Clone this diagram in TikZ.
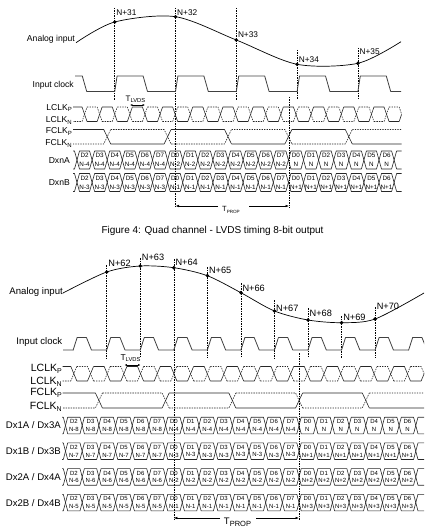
\documentclass[tikz,border=0pt]{standalone}
\usepackage{fontspec}
\setmainfont{Liberation Sans}
\usetikzlibrary{arrows.meta}

\newcommand{\lowtxt}[2]{\raisebox{-0.35ex}{\fontsize{#1}{#1}\selectfont #2}}

% P/N pair: xstart, xend, ytop, ybot, start of first P-high eye, eye width, edge half width, last eye
\newcommand{\diffclk}[8]{%
  \begin{scope}
    \clip (#1,#3-2) rectangle (#2,#4+2);
    \foreach \k in {0,...,#8}{%
      \pgfmathsetmacro\ea{#5+\k*#6}%
      \pgfmathsetmacro\eb{\ea+#6}%
      \ifodd\k
        \draw[wave] (\ea+#7,#4) -- (\eb-#7,#4) -- (\eb+#7,#3);
        \draw[waveN] (\ea+#7,#3) -- (\eb-#7,#3) -- (\eb+#7,#4);
      \else
        \draw[wave] (\ea+#7,#3) -- (\eb-#7,#3) -- (\eb+#7,#4);
        \draw[waveN] (\ea+#7,#4) -- (\eb-#7,#4) -- (\eb+#7,#3);
      \fi
    }
  \end{scope}}

% data row: ycentre, half height, xstart, xend, first edge, bit width, edge half width, first sample, sample step
\newcommand{\datarow}[9]{%
  \begin{scope}
    \clip (#3,#1-#2-2) rectangle (#4,#1+#2+2);
    \foreach \cell in {-1,...,21}{%
      \pgfmathsetmacro\cx{#5+\cell*#6}%
      \draw[wave] (\cx,#1) -- (\cx+#7,#1-#2) -- (\cx+#6-#7,#1-#2) -- (\cx+#6,#1)
        -- (\cx+#6-#7,#1+#2) -- (\cx+#7,#1+#2) -- cycle;
    }
  \end{scope}
  \foreach \cell in {0,...,20}{%
    \pgfmathtruncatemacro\bitno{mod(\cell+2,8)}%
    \pgfmathtruncatemacro\smp{#8+#9*int((\cell+2)/8)}%
    \node[celltext] (d#8-\cell) at (#5+\cell*#6+#6/2,#1)
      {D\bitno\\N\ifnum\smp>0 +\fi\ifnum\smp=0 \else\smp\fi};
  }}

% input clock: xstart, xend, ylow, yhigh, first rising edge, period, rise, high, fall
\newcommand{\inclk}[9]{%
  \begin{scope}
    \clip (#1,#4-2) rectangle (#2,#3+2);
    \foreach \k in {-2,...,12}{%
      \pgfmathsetmacro\rx{#5+\k*#6}%
      \draw[clk] (\rx,#3) -- (\rx+#7,#4) -- (\rx+#7+#8,#4) -- (\rx+#7+#8+#9,#3) -- (\rx+#6,#3);
    }
  \end{scope}}

\begin{document}
\begin{tikzpicture}[x=1pt,y=-1pt,line join=round]
  \tikzstyle{wave}=[line width=0.6pt,draw=black!85]
  \tikzstyle{waveN}=[wave,dash pattern=on 1.4pt off 1.1pt]
  \tikzstyle{clk}=[line width=0.8pt,draw=black!75,line cap=round]
  \tikzstyle{curve}=[line width=0.7pt]
  \tikzstyle{sampleline}=[line width=0.5pt,dash pattern=on 1.5pt off 1pt]
  \tikzstyle{sampdot}=[circle,fill=black,inner sep=0pt,minimum size=3.8pt]
  \tikzstyle{siglabel}=[anchor=east,inner sep=0pt,font=\fontsize{8.6}{10}\selectfont]
  \tikzstyle{smplabel}=[anchor=west,inner sep=0pt,font=\fontsize{8.3}{10}\selectfont]
  \tikzstyle{celltext}=[align=center,inner sep=0pt,font=\fontsize{6.3}{9}\selectfont]
  \tikzstyle{tarrow}=[line width=0.6pt,-{Latex[length=3.5pt,width=2.6pt]}]
  \tikzstyle{tlvds}=[line width=0.5pt,{Latex[length=2.4pt,width=2pt]}-{Latex[length=2.4pt,width=2pt]}]

  \useasboundingbox (0,0) rectangle (442,532);

  % ---- quad channel, 8-bit output ----
  \node[siglabel] (ain1) at (75,39.5) {Analog input};
  \draw[curve] plot[smooth] coordinates {(76,42.7) (114.7,22) (175.5,16.7) (236.3,40)
    (297.1,64.3) (357.9,63.3) (401,41.7)};
  \foreach \x/\yt/\yd/\yl/\yb/\n in {114.7/8/22/12.3/100/31, 175.5/8/16.7/12.3/208/32,
      236.3/8/40/35/100/33, 297.1/50/64.3/59.3/100/34, 357.9/48/63.3/51.7/100/35}{
    \draw[sampleline] (\x,\yt) -- (\x,\yb);
    \node[sampdot] (s\n) at (\x,\yd) {};
    \node[smplabel] (n\n) at (\x+1.5,\yl) {N+\n};
  }

  \node[siglabel] (ick1) at (74,85) {Input clock};
  \inclk{75}{401}{91.5}{76}{114.7}{60.8}{2.4}{26}{4.4}

  \node[font=\fontsize{8}{9}\selectfont,inner sep=0pt] (lvds1) at (135.5,99.5) {T\lowtxt{5.8}{LVDS}};
  \coordinate (lv1a) at (130,105);
  \coordinate (lv1b) at (145,105);

  \node[siglabel] (lcp1) at (72,108) {LCLK\lowtxt{6}{P}};
  \node[siglabel] (lcn1) at (72,120.5) {LCLK\lowtxt{6}{N}};
  \diffclk{73}{401.5}{107}{121.5}{69.45}{15.1}{2.5}{22}
  \draw[tlvds] (lv1a) -- (lv1b);

  \node[siglabel] (fcp1) at (72,131.5) {FCLK\lowtxt{6}{P}};
  \node[siglabel] (fcn1) at (72,143.5) {FCLK\lowtxt{6}{N}};
  \diffclk{73}{401.5}{129.5}{144}{46.8}{60.4}{3.5}{5}

  \node[siglabel] (dxa) at (70,160.5) {DxnA};
  \node[siglabel] (dxb) at (70,182.5) {DxnB};
  \datarow{160}{9}{73}{401.5}{77}{15.1}{2.5}{-4}{2}
  \datarow{182.5}{9}{73}{401.5}{77}{15.1}{2.5}{-3}{2}

  \draw[sampleline] (289,97) -- (289,208);
  \coordinate (tp1a) at (175.5,206);
  \coordinate (tp1b) at (289,206);
  \coordinate (tp1l) at (218,206);
  \coordinate (tp1r) at (249,206);
  \node[font=\fontsize{7.5}{9}\selectfont,inner sep=0pt] (tprop1) at (231,210) {T\lowtxt{4.6}{PROP}};
  \draw[tarrow] (tp1l) -- (tp1a);
  \draw[tarrow] (tp1r) -- (tp1b);

  \node[font=\fontsize{10}{12}\selectfont,inner sep=0pt] (cap) at (212.5,231)
    {Figure 4: Quad channel - LVDS timing 8-bit output};

  % ---- single channel, 8-bit output ----
  \tikzstyle{siglabel}=[anchor=east,inner sep=0pt,font=\fontsize{9.6}{11}\selectfont]
  \tikzstyle{clklabel}=[anchor=east,inner sep=0pt,font=\fontsize{10.5}{12}\selectfont]
  \tikzstyle{smplabel}=[anchor=west,inner sep=0pt,font=\fontsize{9.2}{11}\selectfont]
  \tikzstyle{celltext}=[align=center,inner sep=0pt,font=\fontsize{6}{7.5}\selectfont]

  \node[siglabel] (ain2) at (63,292) {Analog input};
  \draw[curve] plot[smooth] coordinates {(63,293) (106.7,272) (140.25,266) (173.8,267.7)
    (207.35,275.7) (240.9,292.7) (274.45,311) (308,320) (341.55,322.7) (375.1,319) (424,293)};
  \foreach \x/\yt/\yd/\yl/\yb/\n in {106.7/265/272/263/358/62, 140.25/258/266/257/358/63,
      173.8/259/267.7/262.5/520/64, 207.35/267/275.7/270.7/358/65, 240.9/283/292.7/288/358/66,
      274.45/300/311/308/358/67, 308/308/320/313/358/68, 341.55/316/322.7/317/358/69,
      375.1/307/319/306/358/70}{
    \draw[sampleline] (\x,\yt) -- (\x,\yb);
    \node[sampdot] (s\n) at (\x,\yd) {};
    \node[smplabel] (n\n) at (\x+1.5,\yl) {N+\n};
  }

  \node[siglabel] (ick2) at (62.5,341.7) {Input clock};
  \inclk{63}{424}{350}{337.5}{106.7}{33.55}{4}{9.3}{5}

  \node[font=\fontsize{8.5}{9}\selectfont,inner sep=0pt] (lvds2) at (130.5,358) {T\lowtxt{5.8}{LVDS}};
  \coordinate (lv2a) at (124.5,365);
  \coordinate (lv2b) at (140.5,365);

  \node[clklabel] (lcp2) at (62,369) {LCLK\lowtxt{7}{P}};
  \node[clklabel] (lcn2) at (62,381.5) {LCLK\lowtxt{7}{N}};
  \diffclk{62.5}{424}{366.5}{381}{57.16}{16.68}{3}{22}
  \draw[tlvds] (lv2a) -- (lv2b);

  \node[clklabel] (fcp2) at (62,393) {FCLK\lowtxt{7}{P}};
  \node[clklabel] (fcn2) at (62,406.5) {FCLK\lowtxt{7}{N}};
  \diffclk{62.5}{424}{393}{408}{32.2}{66.72}{3.5}{6}

  \node[siglabel] (d1a) at (61,425.5) {Dx1A / Dx3A};
  \node[siglabel] (d1b) at (61,451.2) {Dx1B / Dx3B};
  \node[siglabel] (d2a) at (61,476.9) {Dx2A / Dx4A};
  \node[siglabel] (d2b) at (61,502.6) {Dx2B / Dx4B};
  \datarow{425.5}{8.3}{62}{424}{65.5}{16.68}{2.2}{-8}{4}
  \datarow{451.2}{8.3}{62}{424}{65.5}{16.68}{2.2}{-7}{4}
  \datarow{476.9}{8.3}{62}{424}{65.5}{16.68}{2.2}{-6}{4}
  \datarow{502.6}{8.3}{62}{424}{65.5}{16.68}{2.2}{-5}{4}

  \draw[sampleline] (299,353) -- (299,520);
  \coordinate (tp2a) at (173.8,518);
  \coordinate (tp2b) at (299,518);
  \coordinate (tp2l) at (220,518);
  \coordinate (tp2r) at (256,518);
  \node[font=\fontsize{9.5}{11}\selectfont,inner sep=0pt] (tprop2) at (237.5,522) {T\lowtxt{7.5}{PROP}};
  \draw[tarrow] (tp2l) -- (tp2a);
  \draw[tarrow] (tp2r) -- (tp2b);
\end{tikzpicture}
\end{document}
